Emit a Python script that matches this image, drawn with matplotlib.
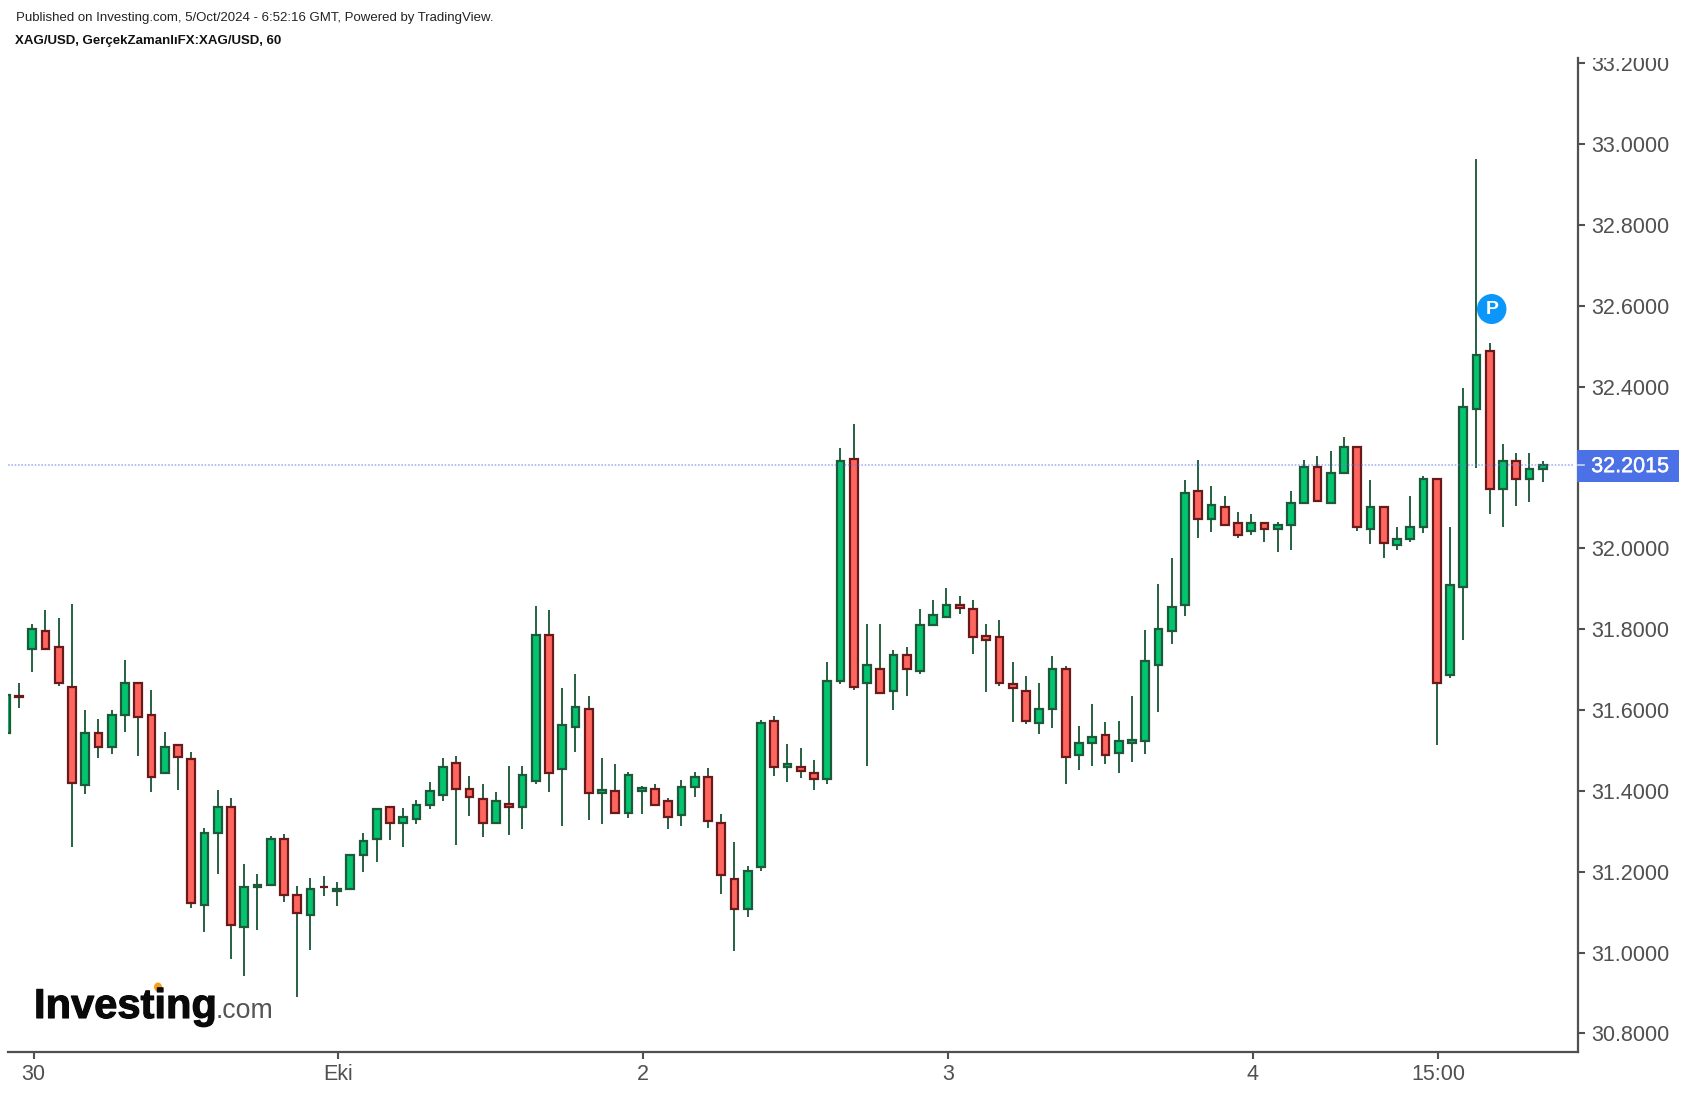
import matplotlib
matplotlib.use("Agg")
import matplotlib.patheffects as pe
import matplotlib.pyplot as plt
from matplotlib.patches import Ellipse, Rectangle
from matplotlib.transforms import blended_transform_factory

opens = [
    31.542, 31.634, 31.751, 31.796, 31.757, 31.658, 31.415, 31.544, 31.509, 31.588,
    31.668, 31.588, 31.444, 31.514, 31.480, 31.118, 31.296, 31.361, 31.063, 31.162,
    31.167, 31.282, 31.143, 31.093, 31.163, 31.152, 31.157, 31.241, 31.281, 31.360,
    31.321, 31.330, 31.366, 31.390, 31.469, 31.405, 31.380, 31.321, 31.367, 31.361,
    31.425, 31.786, 31.455, 31.558, 31.603, 31.395, 31.400, 31.346, 31.400, 31.405,
    31.375, 31.341, 31.410, 31.435, 31.321, 31.182, 31.108, 31.212, 31.573, 31.460,
    31.460, 31.445, 31.429, 31.672, 32.221, 31.667, 31.701, 31.647, 31.736, 31.696,
    31.810, 31.830, 31.861, 31.850, 31.782, 31.781, 31.664, 31.647, 31.568, 31.603,
    31.701, 31.489, 31.518, 31.538, 31.494, 31.518, 31.523, 31.711, 31.795, 31.860,
    32.142, 32.072, 32.102, 32.063, 32.044, 32.063, 32.048, 32.058, 32.112, 32.202,
    32.112, 32.186, 32.251, 32.048, 32.102, 32.008, 32.022, 32.054, 32.172, 31.686,
    31.904, 32.344, 32.489, 32.146, 32.217, 32.171, 32.196,
]
highs = [
    31.637, 31.668, 31.813, 31.847, 31.827, 31.862, 31.600, 31.579, 31.600, 31.724,
    31.668, 31.649, 31.545, 31.514, 31.495, 31.307, 31.402, 31.382, 31.219, 31.194,
    31.288, 31.293, 31.164, 31.184, 31.189, 31.174, 31.241, 31.297, 31.355, 31.360,
    31.357, 31.377, 31.422, 31.481, 31.486, 31.436, 31.417, 31.397, 31.461, 31.461,
    31.857, 31.847, 31.654, 31.689, 31.634, 31.481, 31.466, 31.446, 31.412, 31.417,
    31.382, 31.427, 31.446, 31.456, 31.342, 31.273, 31.214, 31.575, 31.585, 31.516,
    31.506, 31.476, 31.718, 32.247, 32.307, 31.812, 31.812, 31.748, 31.757, 31.851,
    31.871, 31.901, 31.881, 31.871, 31.812, 31.822, 31.718, 31.683, 31.668, 31.733,
    31.708, 31.560, 31.614, 31.570, 31.574, 31.634, 31.797, 31.911, 31.975, 32.168,
    32.218, 32.153, 32.129, 32.089, 32.084, 32.063, 32.064, 32.143, 32.218, 32.228,
    32.242, 32.276, 32.251, 32.168, 32.102, 32.054, 32.129, 32.178, 32.172, 32.054,
    32.396, 32.964, 32.509, 32.257, 32.237, 32.237, 32.217,
]
lows = [
    31.542, 31.606, 31.695, 31.751, 31.660, 31.260, 31.393, 31.482, 31.492, 31.546,
    31.487, 31.398, 31.444, 31.403, 31.111, 31.052, 31.195, 30.983, 30.943, 31.057,
    31.167, 31.126, 30.889, 31.007, 31.141, 31.116, 31.157, 31.200, 31.225, 31.279,
    31.260, 31.319, 31.354, 31.374, 31.265, 31.339, 31.285, 31.321, 31.290, 31.305,
    31.418, 31.398, 31.314, 31.497, 31.329, 31.319, 31.346, 31.334, 31.344, 31.366,
    31.305, 31.314, 31.384, 31.309, 31.146, 31.003, 31.087, 31.201, 31.438, 31.423,
    31.433, 31.403, 31.418, 31.665, 31.650, 31.462, 31.642, 31.601, 31.635, 31.690,
    31.810, 31.830, 31.838, 31.739, 31.645, 31.660, 31.571, 31.566, 31.541, 31.556,
    31.418, 31.452, 31.462, 31.467, 31.443, 31.472, 31.492, 31.596, 31.764, 31.833,
    32.026, 32.041, 32.058, 32.026, 32.032, 32.016, 31.992, 31.997, 32.112, 32.117,
    32.112, 32.186, 32.042, 32.011, 31.977, 31.997, 32.016, 32.037, 31.513, 31.680,
    31.774, 32.199, 32.086, 32.052, 32.105, 32.115, 32.165,
]
closes = [
    31.637, 31.632, 31.801, 31.751, 31.666, 31.419, 31.544, 31.509, 31.588, 31.668,
    31.583, 31.434, 31.509, 31.484, 31.123, 31.297, 31.361, 31.068, 31.162, 31.168,
    31.282, 31.142, 31.098, 31.157, 31.161, 31.158, 31.241, 31.277, 31.355, 31.321,
    31.335, 31.365, 31.400, 31.460, 31.405, 31.385, 31.321, 31.375, 31.360, 31.440,
    31.786, 31.445, 31.563, 31.608, 31.395, 31.401, 31.346, 31.440, 31.406, 31.366,
    31.336, 31.410, 31.435, 31.326, 31.192, 31.108, 31.202, 31.568, 31.460, 31.466,
    31.450, 31.430, 31.672, 32.216, 31.657, 31.711, 31.642, 31.736, 31.701, 31.810,
    31.835, 31.860, 31.853, 31.781, 31.774, 31.667, 31.655, 31.573, 31.603, 31.701,
    31.484, 31.518, 31.533, 31.489, 31.523, 31.525, 31.721, 31.800, 31.855, 32.137,
    32.072, 32.107, 32.058, 32.034, 32.063, 32.048, 32.058, 32.112, 32.202, 32.117,
    32.186, 32.251, 32.054, 32.102, 32.013, 32.023, 32.054, 32.172, 31.666, 31.910,
    32.349, 32.479, 32.146, 32.217, 32.171, 32.196, 32.207,
]

y_ticks = [30.8, 31.0, 31.2, 31.4, 31.6, 31.8, 32.0, 32.4, 32.6, 32.8, 33.0, 33.2]
x_tick_bars = [2, 25, 48, 71, 94, 108]
x_tick_labels = ["30", "Eki", "2", "3", "4", "15:00"]
last_price = "32.2015"
last_line = 32.207
last_tag = 32.204
marker_bar = 112
marker_price = 32.592

WIDTH, HEIGHT = 1686, 1094
TOP, BOTTOM = 58, 1052
GREEN, GREEN_EDGE = "#03C46F", "#1E5A3A"
RED, RED_EDGE = "#FF665E", "#6A1A1A"
GREY = "#505050"

plt.rcParams["font.family"] = ["Liberation Sans", "DejaVu Sans"]


def fx(px):
    return px / WIDTH


def fy(py):
    return 1 - py / HEIGHT


fig = plt.figure(figsize=(WIDTH / 100, HEIGHT / 100), dpi=100, facecolor="white")
ax = fig.add_axes([fx(8), fy(BOTTOM), fx(1577.7 - 8), (BOTTOM - TOP) / HEIGHT])

bars = list(range(len(opens)))
ax.vlines(bars, lows, highs, color=GREEN_EDGE, linewidth=1.35, zorder=2)
for i in bars:
    up = closes[i] >= opens[i]
    ax.bar(
        i,
        abs(closes[i] - opens[i]),
        bottom=min(opens[i], closes[i]),
        width=0.58,
        color=GREEN if up else RED,
        edgecolor=GREEN_EDGE if up else RED_EDGE,
        linewidth=1.6,
        zorder=3,
    )

ax.plot([0.17, 118.3], [last_line, last_line], color="#5f7de8", linewidth=1.2,
        linestyle=(0, (1, 1)), alpha=0.55, zorder=4)

ax.set_xlim(0.17, 118.64)
ax.set_ylim(30.754, 33.213)

for side in ["top", "left"]:
    ax.spines[side].set_visible(False)
for side in ["right", "bottom"]:
    ax.spines[side].set_color(GREY)
    ax.spines[side].set_linewidth(1.6)

ax.yaxis.tick_right()
ax.set_yticks(y_ticks)
ax.set_yticklabels([f"{t:.4f}" for t in y_ticks])
ax.set_xticks([b + 0.1 for b in x_tick_bars])
ax.set_xticklabels(x_tick_labels)
ax.tick_params(axis="y", length=5, width=1.5, color=GREY, labelcolor=GREY, labelsize=15.5, pad=4.5)
ax.tick_params(axis="x", length=5, width=1.5, color=GREY, labelcolor=GREY, labelsize=15.5, pad=4)

# the top label is cut off by the edge of the pane
pane = Rectangle((fx(1578), fy(BOTTOM)), fx(108), (BOTTOM - TOP) / HEIGHT, transform=fig.transFigure)
for label in ax.get_yticklabels():
    label.set_clip_path(pane)
    label.set_clip_on(True)

# last price tag
trans = blended_transform_factory(ax.transAxes, ax.transData)
tag_h = 15.9 / 404.3
ax.add_patch(
    Rectangle((1.0 - 1 / 1569.7, last_tag - tag_h), 102 / 1569.7, 2 * tag_h, transform=trans,
              facecolor="#4C70E6", edgecolor="none", clip_on=False, zorder=6)
)
ax.plot([1.0, 1.0 + 6 / 1569.7], [last_line, last_line], transform=trans, color="#c9d3f7",
        linewidth=1.2, clip_on=False, zorder=7)
ax.text(1.0 + 13.5 / 1569.7, last_tag - 0.002, last_price, transform=trans, color="white",
        fontsize=15.5, va="center", ha="left", zorder=7,
        path_effects=[pe.withStroke(linewidth=0.3, foreground="white")])

# publication marker
ax.add_patch(
    Ellipse((marker_bar + 0.15, marker_price), 29.5 / 13.25, 30 / 404.3, facecolor="#0A96FA",
            edgecolor="none", zorder=8)
)
ax.text(marker_bar + 0.15, marker_price - 0.002, "P", color="white", fontsize=14, fontweight="bold",
        ha="center", va="center", zorder=9)

fig.text(fx(16), fy(18), "Published on Investing.com, 5/Oct/2024 - 6:52:16 GMT, Powered by TradingView.",
         fontsize=9.55, color="#222222", va="center")
fig.text(fx(15), fy(41), "XAG/USD, GerçekZamanlıFX:XAG/USD, 60", fontsize=9.55, fontweight="bold",
         color="#111111", va="center")

# logo
fig.text(fx(34), fy(1018), "Investing", fontsize=30, fontweight="bold", color="#0a0a0a",
         va="baseline", ha="left", zorder=10,
         path_effects=[pe.withStroke(linewidth=0.8, foreground="#0a0a0a")])
fig.text(fx(216), fy(1018), ".com", fontsize=19.2, color="#555555", va="baseline", ha="left", zorder=10)
fig.add_artist(Ellipse((fx(158), fy(987)), 8 / WIDTH, 9 / HEIGHT, transform=fig.transFigure,
                       facecolor="#F7A11A", edgecolor="none"))

fig.savefig("out.png", dpi=100, facecolor="white")
